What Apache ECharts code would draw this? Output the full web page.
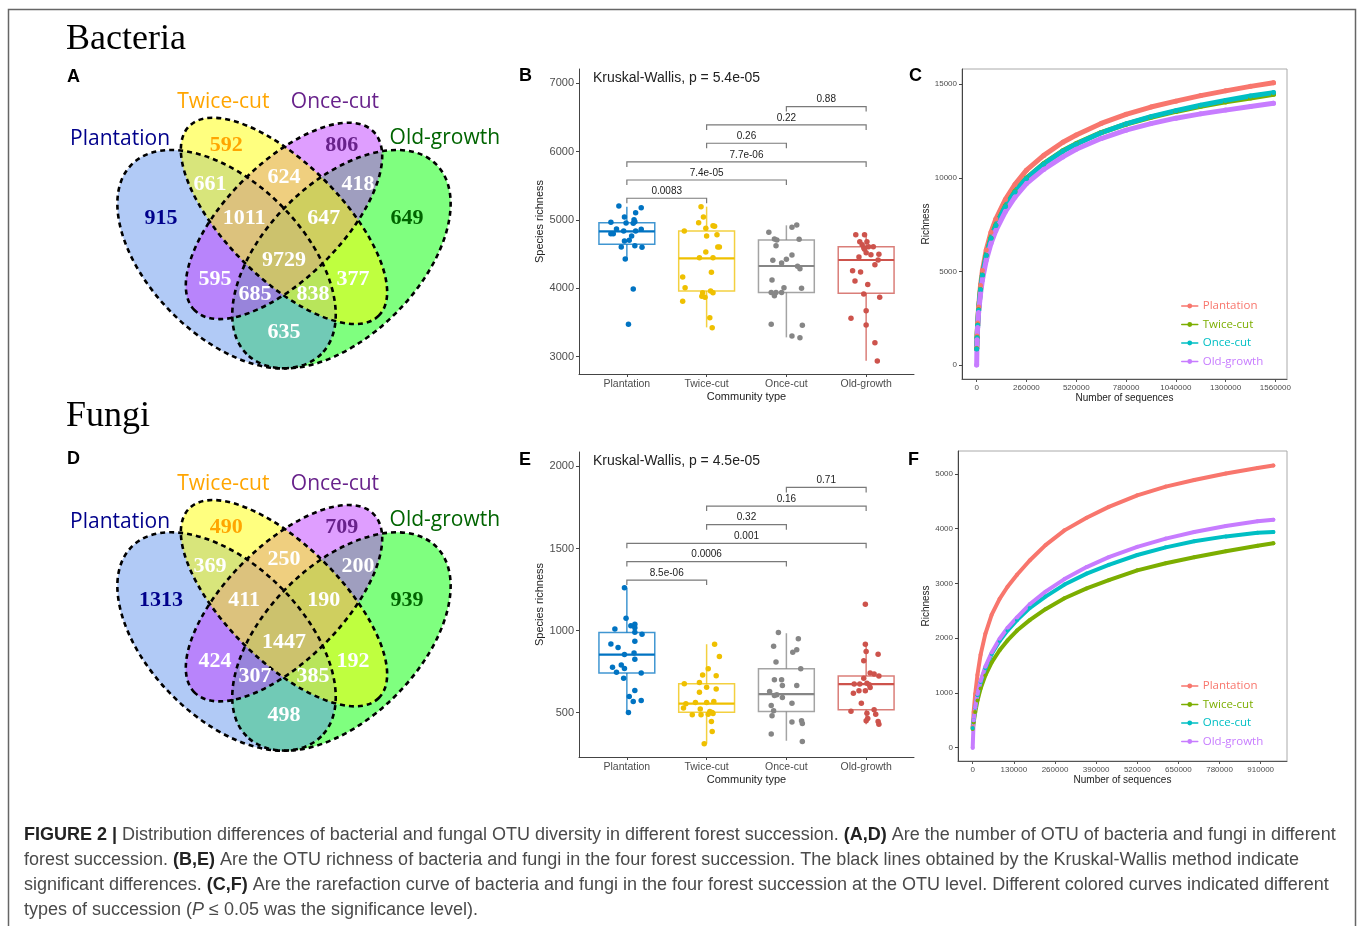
<!DOCTYPE html>
<html><head><meta charset="utf-8">
<script src="https://cdn.jsdelivr.net/npm/echarts@6/dist/echarts.min.js"></script>
<style>html,body{margin:0;padding:0;background:#fff}#c{width:1357px;height:926px}</style>
</head><body><div id="c"></div>
<script>
// ---------------- DATA ----------------
const groups = ['Plantation', 'Twice-cut', 'Once-cut', 'Old-growth'];

// Venn regions: T, O, P, G, PT, TO, OG, PTO, TOG, PTOG, PO, TG, POG, PTG, PG
const bactVennCounts = [592, 806, 915, 649, 661, 624, 418, 1011, 647, 9729, 595, 377, 685, 838, 635];
const fungiVennCounts = [490, 709, 1313, 939, 369, 250, 200, 411, 190, 1447, 424, 192, 307, 385, 498];

// Box stats [low whisker, q1, median, q3, high whisker]
const bactBoxPlantation = [4415, 4644, 4834, 4961, 5195];
const bactBoxTwice = [3429, 3961, 4439, 4839, 5195];
const bactBoxOnce = [3283, 3941, 4327, 4707, 4922];
const bactBoxOld = [2941, 3927, 4415, 4610, 4785];
const fungiBoxPlantation = [501, 741, 854, 988, 1261];
const fungiBoxTwice = [311, 503, 555, 676, 917];
const fungiBoxOnce = [329, 507, 613, 767, 984];
const fungiBoxOld = [430, 518, 674, 724, 917];

// Sample richness values (bacteria)
const bactPlantation = [5205,5180,5107,5044,5005,4966,4976,4956,4951,4868,4863,4800,4800,4839,4839,4766,4693,4702,4605,4624,4600,4429,3990,3473];
const bactTwice = [5195,5044,4961,4917,4907,4878,4839,4766,4785,4605,4605,4532,4449,4449,4234,4166,4010,3961,3937,3937,3868,3883,3810,3571,3424];
const bactOnce = [4927,4893,4819,4722,4707,4717,4624,4488,4424,4410,4371,4322,4288,4122,4010,4000,3941,3941,3941,3893,3473,3459,3302,3278];
const bactOld = [4785,4785,4683,4683,4639,4595,4610,4610,4571,4522,4493,4498,4459,4415,4347,4258,4239,4107,4058,3917,3868,3673,3561,3463,3205,2937];
// horizontal jitter (category units)
const bactJitPlantation = [-0.10,0.18,0.11,-0.03,0.09,-0.20,0.10,-0.01,0.08,-0.13,0.18,-0.20,-0.17,-0.04,0.11,0.06,-0.03,0.03,-0.07,0.10,0.19,-0.02,0.08,0.02];
const bactJitTwice = [-0.07,-0.04,-0.10,0.08,0.10,-0.01,-0.28,0,0.13,0.14,0.16,-0.01,-0.09,0.08,0.06,-0.30,-0.27,0.05,-0.05,0.08,-0.02,-0.06,-0.30,0.04,0.07];
const bactJitOnce = [0.13,0.07,-0.22,-0.15,-0.12,0.16,-0.13,0.07,0,-0.17,-0.06,0.14,0.17,-0.18,-0.03,0.19,-0.19,-0.13,-0.06,-0.15,-0.19,0.20,0.07,0.17];
const bactJitOld = [-0.13,-0.02,-0.08,0.01,-0.05,-0.03,0.03,0.09,-0.02,0,0.06,0.16,-0.09,0.15,0.11,-0.17,-0.07,-0.14,0.02,-0.03,0.17,0,-0.19,0,0.11,0.14];

// Sample richness values (fungi)
const fungiPlantation = [1261,1075,1010,1030,1039,1018,990,978,919,897,935,854,864,826,777,791,769,747,741,710,635,599,568,574,501];
const fungiTwice = [917,842,767,730,676,725,684,655,645,625,554,562,562,568,528,522,507,501,495,491,487,487,446,386,311];
const fungiOnce = [988,951,905,884,868,809,767,700,700,666,666,629,609,593,605,558,544,511,481,443,451,434,370,325];
const fungiOld = [1160,917,872,856,816,724,710,741,735,674,674,680,670,653,619,633,633,558,518,509,497,491,465,451,447,430];
const fungiJitPlantation = [-0.03,-0.01,-0.15,0.05,0.10,0.10,0.10,0.19,-0.20,-0.11,0.10,-0.03,0.09,0.10,-0.18,-0.07,-0.03,-0.13,0.18,-0.04,0.10,0.03,0.08,0.18,0.02];
const fungiJitTwice = [0.10,0.16,0.02,-0.05,-0.28,0.12,-0.09,0,0.12,-0.09,-0.26,-0.14,0,0.09,-0.29,-0.08,0.04,0.07,0.08,0.02,-0.07,-0.18,0.06,0.07,-0.03];
const fungiJitOnce = [-0.10,0.15,-0.16,0.13,0.08,-0.13,0.18,-0.15,-0.06,-0.05,0.13,-0.21,-0.12,-0.05,-0.15,0.07,-0.19,-0.16,-0.18,0.07,0.19,0.20,-0.19,0.20];
const fungiJitOld = [-0.01,-0.01,0,0.15,-0.03,0.16,-0.03,0.05,0.10,-0.15,-0.08,0.01,0.04,0.05,-0.16,-0.09,-0.01,-0.06,0.10,-0.19,0.01,0.12,0.02,0,0.15,0.16];

// Pairwise comparisons
const sigPairs = [[0,1],[0,2],[0,3],[1,2],[1,3],[2,3]];
const bactSigY = [5318, 5585, 5849, 6123, 6391, 6659];
const bactSigLabels = ['0.0083', '7.4e-05', '7.7e-06', '0.26', '0.22', '0.88'];
const fungiSigY = [1308, 1420, 1531, 1645, 1758, 1872];
const fungiSigLabels = ['8.5e-06', '0.0006', '0.001', '0.32', '0.16', '0.71'];
const bactKW = 'Kruskal-Wallis, p = 5.4e-05';
const fungiKW = 'Kruskal-Wallis, p = 4.5e-05';

// Rarefaction curves
const rareXBact = [0, 2000, 5000, 10000, 20000, 30000, 50000, 75000, 100000, 150000, 200000, 260000, 350000, 450000, 520000, 650000, 780000, 910000, 1040000, 1170000, 1300000, 1430000, 1550000];
const rareBactPlantation = [900, 1550, 2250, 3100, 4250, 5050, 6150, 7100, 7800, 8850, 9650, 10410, 11200, 11900, 12290, 12910, 13395, 13785, 14100, 14395, 14650, 14890, 15080];
const rareBactTwice = [870, 1470, 2140, 2950, 4040, 4810, 5870, 6790, 7470, 8490, 9270, 9990, 10760, 11450, 11830, 12420, 12870, 13240, 13550, 13820, 14060, 14270, 14466];
const rareBactOnce = [850, 1450, 2120, 2930, 4020, 4790, 5850, 6770, 7450, 8470, 9250, 9970, 10740, 11430, 11810, 12410, 12880, 13270, 13590, 13880, 14140, 14370, 14555];
const rareBactOld = [0, 1350, 2000, 2800, 3800, 4550, 5600, 6500, 7180, 8200, 8970, 9697, 10450, 11120, 11530, 12100, 12550, 12900, 13190, 13420, 13620, 13810, 13985];
const rareXFungi = [0, 3000, 8000, 15000, 25000, 40000, 60000, 85000, 110000, 140000, 180000, 230000, 290000, 360000, 430000, 520000, 610000, 700000, 800000, 900000, 950000];
const rareFungiPlantation = [380, 650, 980, 1330, 1700, 2080, 2430, 2720, 2940, 3160, 3420, 3700, 3970, 4200, 4400, 4610, 4770, 4890, 5010, 5110, 5155];
const rareFungiTwice = [340, 460, 650, 860, 1080, 1320, 1560, 1780, 1960, 2140, 2330, 2530, 2730, 2910, 3060, 3240, 3370, 3480, 3590, 3690, 3735];
const rareFungiOnce = [360, 500, 730, 960, 1200, 1450, 1710, 1950, 2140, 2330, 2550, 2760, 2980, 3180, 3340, 3520, 3660, 3770, 3860, 3925, 3940];
const rareFungiOld = [0, 500, 740, 980, 1220, 1480, 1740, 1990, 2190, 2380, 2620, 2850, 3080, 3300, 3480, 3670, 3820, 3940, 4050, 4135, 4165];

const bactTicksY = [3000, 4000, 5000, 6000, 7000];
const fungiTicksY = [500, 1000, 1500, 2000];
const rareBactTicksX = [0, 260000, 520000, 780000, 1040000, 1300000, 1560000];
const rareBactTicksY = [0, 5000, 10000, 15000];
const rareFungiTicksX = [0, 130000, 260000, 390000, 520000, 650000, 780000, 910000];
const rareFungiTicksY = [0, 1000, 2000, 3000, 4000, 5000];

// ---------------- STYLE / LAYOUT ----------------
const SANS = '"Liberation Sans", Arial, sans-serif';
const SERIF = '"Liberation Serif", "Times New Roman", serif';
const HUM = '"Open Sans", "Noto Sans", sans-serif';
const boxColors = ['#0073C2', '#EFC000', '#868686', '#CD534C'];
const curveColors = ['#F8766D', '#7CAE00', '#00BFC4', '#C77CFF'];

// Venn geometry (unit space) [cx, cy, a, b, rotationDeg] for P, T, O, G
const vennEllipses = [[0.35,0.47,0.35,0.20,135],[0.50,0.57,0.35,0.15,135],[0.50,0.57,0.33,0.15,45],[0.65,0.47,0.35,0.20,45]];
const vennFills = ['rgba(100,149,237,0.5)','rgba(255,255,0,0.5)','rgba(191,62,255,0.5)','rgba(0,255,0,0.5)'];
const vennFillOrder = [3, 0, 2, 1];
const vennLabelU = [0.349,0.651,0.179,0.821,0.307,0.5,0.693,0.396,0.604,0.5,0.32,0.68,0.424,0.576,0.5];
const vennLabelV = [0.768,0.768,0.578,0.578,0.666,0.685,0.666,0.578,0.578,0.468,0.4175,0.4175,0.379,0.379,0.278];
const vennLabelColors = ['#FFA500','#68228B','#00008B','#006400'];
const setLabelU = [0.072, 0.3415, 0.633, 0.92];
const setLabelV = [0.783, 0.881, 0.881, 0.786];
const setLabelColors = ['#00008B', '#FFA500', '#68228B', '#006400'];
const VS = 383;

function vennElements(x0, y0, counts) {
  const els = [];
  const P = (u, v) => [x0 + (u - 0.5) * VS, y0 - v * VS];
  vennFillOrder.forEach(k => {
    const e = vennEllipses[k]; const p = P(e[0], e[1]);
    els.push({type:'ellipse', x:p[0], y:p[1], rotation:e[4]*Math.PI/180, shape:{cx:0, cy:0, rx:e[2]*VS, ry:e[3]*VS}, style:{fill:vennFills[k]}, z:1});
  });
  vennEllipses.forEach(e => {
    const p = P(e[0], e[1]);
    els.push({type:'ellipse', x:p[0], y:p[1], rotation:e[4]*Math.PI/180, shape:{cx:0, cy:0, rx:e[2]*VS, ry:e[3]*VS}, style:{fill:'none', stroke:'#000', lineWidth:2.6, lineDash:[5,4]}, z:2});
  });
  counts.forEach((c, i) => {
    const p = P(vennLabelU[i], vennLabelV[i]);
    els.push({type:'text', x:p[0], y:p[1], z:3, style:{text:String(c), font:'bold 22px ' + SERIF, fill: i < 4 ? vennLabelColors[i] : '#fff', align:'center', verticalAlign:'middle', textAlign:'center', textVerticalAlign:'middle'}});
  });
  groups.forEach((g, i) => {
    const p = P(setLabelU[i], setLabelV[i]);
    els.push({type:'text', x:p[0], y:p[1], z:3, style:{text:g, font:'21px ' + HUM, fill:setLabelColors[i], align:'center', verticalAlign:'middle', textAlign:'center', textVerticalAlign:'middle'}});
  });
  return els;
}

function txt(x, y, text, font, fill, align, extra) {
  return Object.assign({type:'text', x, y, z:5, style:{text, font, fill, align:align||'left', verticalAlign:'middle', textAlign:align||'left', textVerticalAlign:'middle'}}, extra||{});
}

// ---------------- SERIES BUILDERS ----------------
function boxRender(params, api) {
  const x = api.value(0), lo = api.value(1), q1 = api.value(2), md = api.value(3), q3 = api.value(4), hi = api.value(5);
  const c = boxColors[x]; const hw = 0.35;
  const tl = api.coord([x - hw, q3]), br = api.coord([x + hw, q1]);
  const m1 = api.coord([x - hw, md]), m2 = api.coord([x + hw, md]);
  const t = api.coord([x, hi]), b = api.coord([x, lo]), a3 = api.coord([x, q3]), a1 = api.coord([x, q1]);
  return {type:'group', children:[
    {type:'line', shape:{x1:t[0], y1:t[1], x2:a3[0], y2:a3[1]}, style:{stroke:c, lineWidth:1.5, opacity:0.75}},
    {type:'line', shape:{x1:a1[0], y1:a1[1], x2:b[0], y2:b[1]}, style:{stroke:c, lineWidth:1.5, opacity:0.75}},
    {type:'rect', shape:{x:tl[0], y:tl[1], width:br[0]-tl[0], height:br[1]-tl[1]}, style:{fill:'none', stroke:c, lineWidth:1.5, opacity:0.75}},
    {type:'line', shape:{x1:m1[0], y1:m1[1], x2:m2[0], y2:m2[1]}, style:{stroke:c, lineWidth:2.2}}
  ]};
}
function bracketRender(labels, tip) {
  return function(params, api) {
    const x1 = api.value(0), x2 = api.value(1), y = api.value(2);
    const a = api.coord([x1, y - tip]), b = api.coord([x1, y]), c = api.coord([x2, y]), d = api.coord([x2, y - tip]);
    return {type:'group', children:[
      {type:'polyline', shape:{points:[a, b, c, d]}, style:{stroke:'#7a7a7a', lineWidth:1.2, fill:'none'}},
      {type:'text', x:(b[0] + c[0]) / 2, y:b[1] - 2, style:{text:labels[params.dataIndex], font:'10px ' + SANS, fill:'#222', align:'center', verticalAlign:'bottom', textAlign:'center', textVerticalAlign:'bottom'}}
    ]};
  };
}
function boxSeries(ax, boxes) {
  return {type:'custom', xAxisIndex:ax, yAxisIndex:ax, z:2, silent:true, renderItem:boxRender,
    data: boxes.map((s, k) => [k].concat(s))};
}
function pointSeries(ax, vals, jits) {
  return vals.map((v, k) => ({type:'scatter', xAxisIndex:ax, yAxisIndex:ax, z:3, silent:true, symbolSize:5.5,
    itemStyle:{color:boxColors[k], opacity:1}, data: v.map((y, i) => [k + jits[k][i], y])}));
}
function bracketSeries(ax, ys, labels, tip) {
  return {type:'custom', xAxisIndex:ax, yAxisIndex:ax, z:4, silent:true, renderItem:bracketRender(labels, tip),
    data: sigPairs.map((p, i) => [p[0], p[1], ys[i]])};
}
function curveSeries(ax, xs, curves, lw) {
  return curves.map((c, k) => ({type:'line', name:groups[k], xAxisIndex:ax, yAxisIndex:ax, z:3, silent:true,
    smooth:false, symbol:'circle', symbolSize:lw, showAllSymbol:true,
    lineStyle:{width:lw, color:curveColors[k], cap:'round', join:'round'}, itemStyle:{color:curveColors[k]},
    data: xs.map((x, i) => [x, c[i]])}));
}

// ---------------- AXES ----------------
const plain = v => String(Math.round(v));
const tickLbl = {color:'#4d4d4d', fontFamily:SANS};
function catX(gi) {
  return {type:'value', gridIndex:gi, min:-0.6, max:3.6,
    axisLine:{onZero:false, lineStyle:{color:'#444', width:1}},
    axisTick:{customValues:[0,1,2,3], length:3, lineStyle:{color:'#444'}},
    axisLabel:Object.assign({customValues:[0,1,2,3], formatter:v => groups[Math.round(v)], fontSize:10.5, margin:5}, tickLbl),
    splitLine:{show:false}, name:'Community type', nameLocation:'middle', nameGap:17,
    nameTextStyle:{fontSize:11, color:'#222', fontFamily:SANS}};
}
function valY(gi, min, max, ticks, name, gap, fs) {
  return {type:'value', gridIndex:gi, min, max,
    axisLine:{show:true, onZero:false, lineStyle:{color:'#444', width:1}},
    axisTick:{show:true, customValues:ticks, length:3, lineStyle:{color:'#444'}},
    axisLabel:Object.assign({customValues:ticks, formatter:plain, fontSize:fs, margin:5}, tickLbl),
    splitLine:{show:false}, name, nameLocation:'middle', nameGap:gap,
    nameTextStyle:{fontSize:fs === 11 ? 11 : 10, color:'#222', fontFamily:SANS}};
}
function valX(gi, min, max, ticks, name) {
  return {type:'value', gridIndex:gi, min, max,
    axisLine:{onZero:false, lineStyle:{color:'#555', width:1}},
    axisTick:{customValues:ticks, length:3, lineStyle:{color:'#555'}},
    axisLabel:Object.assign({customValues:ticks, formatter:plain, fontSize:8, margin:5}, tickLbl),
    splitLine:{show:false}, name, nameLocation:'middle', nameGap:13,
    nameTextStyle:{fontSize:10, color:'#222', fontFamily:SANS}};
}

// ---------------- GRAPHICS ----------------
const capFamily = '"Liberation Sans Narrow", "Liberation Sans", Arial, sans-serif';
const capLines = [
  '{b|FIGURE 2 |} Distribution differences of bacterial and fungal OTU diversity in different forest succession. {b|(A,D)} Are the number of OTU of bacteria and fungi in different',
  'forest succession. {b|(B,E)} Are the OTU richness of bacteria and fungi in the four forest succession. The black lines obtained by the Kruskal-Wallis method indicate',
  'significant differences. {b|(C,F)} Are the rarefaction curve of bacteria and fungi in the four forest succession at the OTU level. Different colored curves indicated different',
  'types of succession ({i|P} ≤ 0.05 was the significance level).'
];
const meas = document.createElement('canvas').getContext('2d');
meas.font = '100px ' + capFamily;
const capPlain = capLines[0].replace(/\{[bi]\|([^}]*)\}/g, '$1');
const capSize = Math.min(18, 100 * 1312 / meas.measureText(capPlain).width);

const graphics = [
  {type:'rect', z:0, shape:{x:8.5, y:9.5, width:1347, height:1000}, style:{fill:'none', stroke:'#666', lineWidth:1.5}},
  txt(66, 40, 'Bacteria', '36px ' + SERIF, '#000'),
  txt(66, 417, 'Fungi', '36px ' + SERIF, '#000'),
  txt(67, 77.5, 'A', 'bold 18px ' + SANS, '#000'),
  txt(519, 76.5, 'B', 'bold 18px ' + SANS, '#000'),
  txt(909, 76.5, 'C', 'bold 18px ' + SANS, '#000'),
  txt(67, 459.5, 'D', 'bold 18px ' + SANS, '#000'),
  txt(519, 460, 'E', 'bold 18px ' + SANS, '#000'),
  txt(908, 460, 'F', 'bold 18px ' + SANS, '#000'),
  txt(593, 78, bactKW, '14px ' + SANS, '#222'),
  txt(593, 461, fungiKW, '14px ' + SANS, '#222')
].concat(vennElements(284, 439.2, bactVennCounts))
 .concat(vennElements(284, 821.5, fungiVennCounts))
 .concat(capLines.map((t, i) => ({type:'text', x:24, y:835 + i * 25, z:5,
   style:{text:t, font: capSize + 'px ' + capFamily, fill:'#4a4a4a', align:'left', verticalAlign:'middle', textAlign:'left', textVerticalAlign:'middle',
     rich:{b:{fontWeight:'bold', fill:'#222', fontSize:capSize, fontFamily:capFamily}, i:{fontStyle:'italic', fill:'#4a4a4a', fontSize:capSize, fontFamily:capFamily}}}})));

function legendAt(top) {
  return {orient:'vertical', left:1176, top, itemWidth:16, itemHeight:6, itemGap:4.5, selectedMode:false,
    lineStyle:{width:1.5}, textStyle:{fontSize:11.5, fontFamily:HUM, lineHeight:14},
    data: groups.map((g, i) => ({name:g, textStyle:{color:curveColors[i]}}))};
}

const series = [].concat(
  [boxSeries(0, [bactBoxPlantation, bactBoxTwice, bactBoxOnce, bactBoxOld])],
  pointSeries(0, [bactPlantation, bactTwice, bactOnce, bactOld], [bactJitPlantation, bactJitTwice, bactJitOnce, bactJitOld]),
  [bracketSeries(0, bactSigY, bactSigLabels, 73)],
  curveSeries(1, rareXBact, [rareBactPlantation, rareBactTwice, rareBactOnce, rareBactOld], 5),
  [boxSeries(2, [fungiBoxPlantation, fungiBoxTwice, fungiBoxOnce, fungiBoxOld])],
  pointSeries(2, [fungiPlantation, fungiTwice, fungiOnce, fungiOld], [fungiJitPlantation, fungiJitTwice, fungiJitOnce, fungiJitOld]),
  [bracketSeries(2, fungiSigY, fungiSigLabels, 30)],
  curveSeries(3, rareXFungi, [rareFungiPlantation, rareFungiTwice, rareFungiOnce, rareFungiOld], 4)
);

const chart = echarts.init(document.getElementById('c'), null, {width:1357, height:926});
chart.setOption({
  animation:false,
  backgroundColor:'#fff',
  textStyle:{fontFamily:SANS},
  grid:[
    {left:579, top:69, width:335, height:305, outerBoundsMode:'none'},
    {left:962, top:69, width:325, height:310, show:true, borderColor:'#aaa', borderWidth:1, outerBoundsMode:'none'},
    {left:579, top:452, width:335, height:305, outerBoundsMode:'none'},
    {left:958, top:451, width:329, height:310, show:true, borderColor:'#aaa', borderWidth:1, outerBoundsMode:'none'}
  ],
  xAxis:[
    catX(0),
    valX(1, -76700, 1620600, rareBactTicksX, 'Number of sequences'),
    catX(2),
    valX(3, -46440, 993100, rareFungiTicksX, 'Number of sequences')
  ],
  yAxis:[
    valY(0, 2747, 7209, bactTicksY, 'Species richness', 32, 11),
    valY(1, -748, 15817, rareBactTicksY, 'Richness', 28, 8),
    valY(2, 230, 2088, fungiTicksY, 'Species richness', 32, 11),
    valY(3, -243, 5420, rareFungiTicksY, 'Richness', 24, 8)
  ],
  legend:[legendAt(294), legendAt(674)],
  series,
  graphic:{elements:graphics}
});
</script></body></html>
